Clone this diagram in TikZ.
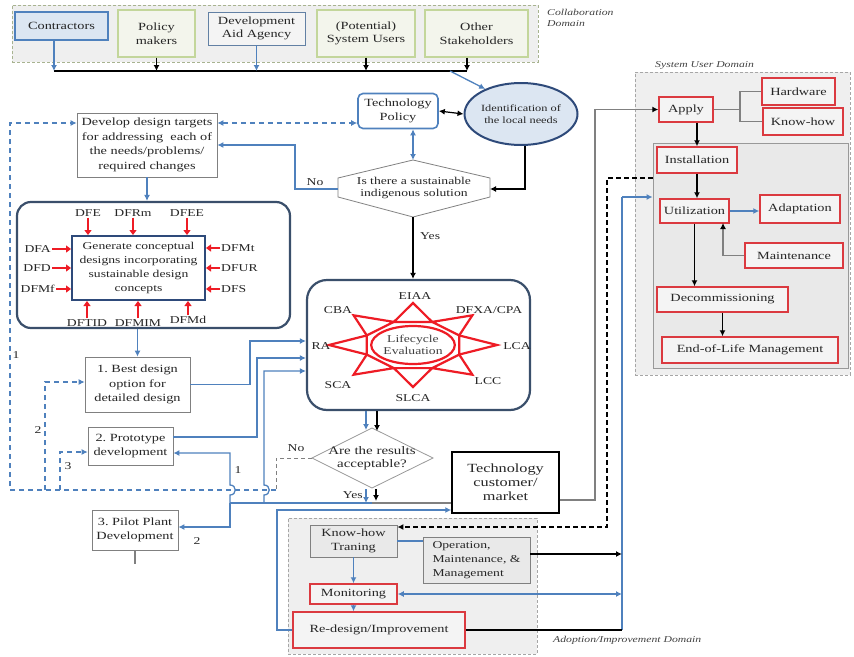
\documentclass[tikz,border=0pt]{standalone}
\usepackage{fontspec}
\setmainfont{Liberation Serif}[FakeStretch=1.3]
\usetikzlibrary{arrows.meta,calc,shapes.geometric}
\definecolor{cblue}{HTML}{4F81BD}
\definecolor{cbluefill}{HTML}{DCE6F2}
\definecolor{cdark}{HTML}{3A4F6B}
\definecolor{cdarkblue}{HTML}{2E4A7A}
\definecolor{cred}{HTML}{EE1C25}
\definecolor{cboxred}{HTML}{DB3A40}
\definecolor{cgreen}{HTML}{C3D69B}
\definecolor{cgreenfill}{HTML}{F3F5EC}
\definecolor{cgrayline}{HTML}{808080}
\definecolor{cdomain}{HTML}{EFEFEF}
\definecolor{cinner}{HTML}{E9E9E9}
\definecolor{cboxfill}{HTML}{F4F4F4}
\newcommand\fsz[2]{\fontsize{#1}{#2}\selectfont}
\begin{document}
\begin{tikzpicture}[x=1pt,y=-1pt,
 base/.style={align=center, inner sep=1pt, text=black!85, font=\fsz{11}{13.5}},
 plainbox/.style={base, draw=cgrayline, line width=0.7pt, fill=white},
 greenbox/.style={base, draw=cgreen, line width=1.3pt, fill=cgreenfill},
 redbox/.style={base, draw=cboxred, line width=1.5pt, fill=cboxfill},
 darkround/.style={draw=cdark, line width=2.2pt, rounded corners=14pt, fill=white, inner sep=0pt},
 bline/.style={draw=cblue, line width=1.3pt},
 barrow/.style={bline, -{Latex[length=6pt,width=6pt]}},
 karrow/.style={draw=black, line width=1.2pt, -{Latex[length=6pt,width=6pt]}},
 garrow/.style={draw=cgrayline, line width=1.1pt, -{Latex[length=6pt,width=6pt,color=black]}},
 gline/.style={draw=cgrayline, line width=1.1pt},
 redarrow/.style={draw=cred, line width=1.6pt, -{Triangle[length=5pt,width=7pt]}},
 dashb/.style={draw=cblue, line width=1.1pt, dash pattern=on 5pt off 4pt},
 dashg/.style={draw=cgrayline, line width=1pt, dash pattern=on 4pt off 3pt},
 dashk/.style={draw=black, line width=1.2pt, dash pattern=on 5pt off 3pt},
 lab/.style={font=\fsz{10.5}{12}, text=black!85, inner sep=1pt},
 domlab/.style={font=\itshape\fsz{9}{11}, text=black!75, align=left, inner sep=0pt},
]
\useasboundingbox (0,0) rectangle (854,656);

% ---------- domains ----------
\node[draw=cgreen!60!gray, dash pattern=on 3pt off 2pt, line width=1pt, fill=cdomain, minimum width=526pt, minimum height=57pt, inner sep=0pt] (collabDom) at (275,33.5) {};
\node[domlab, anchor=north west] (collabLab) at (547,9) {Collaboration\\Domain};

\node[draw=cgrayline!70, dash pattern=on 3pt off 2pt, line width=1pt, fill=cdomain, minimum width=215pt, minimum height=303pt, inner sep=0pt] (suDom) at (742.5,223.5) {};
\node[draw=cgrayline!80, line width=0.8pt, fill=cinner, minimum width=195pt, minimum height=225pt, inner sep=0pt] (suIn) at (750.5,255.5) {};
\node[domlab, anchor=west] (suLab) at (655,65) {System User Domain};

\node[draw=cgrayline!70, dash pattern=on 3pt off 2pt, line width=1pt, fill=cdomain, minimum width=249pt, minimum height=136pt, inner sep=0pt] (adDom) at (412.5,586) {};
\node[domlab, anchor=west] (adLab) at (553,640) {Adoption/Improvement Domain};

% ---------- collaboration boxes ----------
\node[base, draw=cblue, line width=1.6pt, fill=cbluefill, minimum width=93pt, minimum height=28pt] (contr) at (61.5,26) {Contractors};
\node[greenbox, minimum width=77pt, minimum height=47pt] (policy) at (156.5,33.5) {Policy\\makers};
\node[base, draw=cblue!60!gray, line width=0.8pt, fill=cboxfill, minimum width=97pt, minimum height=33pt] (devaid) at (256.5,28.5) {Development\\Aid Agency};
\node[greenbox, minimum width=98pt, minimum height=47pt] (potential) at (366,33.5) {(Potential)\\System Users};
\node[greenbox, minimum width=103pt, minimum height=47pt] (other) at (476.5,33.5) {Other\\Stakeholders};

\coordinate (busL) at (54,71);
\coordinate (busR) at (467,71);
\coordinate (busD) at (450,71);
\draw[black, line width=1.4pt] (busL) -- (busR);
\draw[barrow] (busL |- contr.south) -- (busL);
\draw[karrow] (policy.south) -- (policy.south |- busL);
\draw[barrow] (devaid.south) -- (devaid.south |- busL);
\draw[karrow] (potential.south) -- (potential.south |- busL);
\draw[karrow] (busR |- other.south) -- (busR);

% ---------- policy / needs ----------
\node[base, draw=cblue, line width=1.6pt, rounded corners=5pt, fill=white, minimum width=80pt, minimum height=35pt] (tp) at (398,111) {Technology\\Policy};
\node[ellipse, draw=cdarkblue, line width=2pt, fill=cbluefill, minimum width=103pt, minimum height=62pt, inner sep=0pt, align=center, text=black!85, font=\fsz{9.5}{11.5}] (idn) at (521,114) {Identification of\\the local needs};
\draw[barrow] (busD) -- (idn.145);
\draw[draw=black, line width=1.2pt, {Latex[length=6pt,width=6pt]}-{Latex[length=6pt,width=6pt]}] (tp.east) -- (idn.west);

% hexagon decision
\coordinate (d1N) at (413,160);
\coordinate (d1S) at (413,217);
\coordinate (d1W) at (338,189);
\coordinate (d1E) at (490,189);
\draw[draw=cgrayline, line width=0.8pt, fill=white] (d1N) -- (490,178) -- (490,197) -- (d1S) -- (338,197) -- (338,178) -- cycle;
\node[font=\fsz{10.5}{12.5}, align=center, text=black!85] (d1) at (414,188) {Is there a sustainable\\indigenous solution};
\draw[draw=cblue, line width=1.6pt, {Latex[length=6pt,width=6pt]}-{Latex[length=6pt,width=6pt]}] (tp.south -| d1N) -- (d1N);
\draw[karrow] (idn.-83) |- (d1E);

% develop design targets
\node[plainbox, minimum width=140pt, minimum height=64pt, font=\fsz{11}{14.5}] (dev) at (147,145) {Develop design targets\\for addressing\ \ each of\\the needs/problems/\\required changes};
\coordinate (noC) at (295,189);
\draw[barrow] (d1W) -- (noC) |- (dev.east);
\node[lab] (noLab) at (315,182) {No};
\draw[dashb, {Latex[length=6pt,width=6pt]}-{Latex[length=6pt,width=6pt]}] ($(dev.east)+(0,-22)$) -- ($(tp.west)+(0,12)$);
\node[lab, anchor=west] (yesLab1) at (419,236) {Yes};

% ---------- concept box ----------
\node[darkround, minimum width=273pt, minimum height=126pt] (concept) at (153.5,265) {};
\node[base, draw=cdarkblue, line width=2pt, fill=white, minimum width=133pt, minimum height=64pt, font=\fsz{10.5}{14}] (gen) at (138.5,268) {Generate conceptual\\designs incorporating\\sustainable design\\concepts};
\draw[barrow] (dev.south) -- (dev.south |- concept.north);

\node[lab] (dfe) at (88,213) {DFE};
\node[lab] (dfrm) at (133,213) {DFRm};
\node[lab] (dfee) at (187,213) {DFEE};
\draw[redarrow] (dfe.south) -- (dfe.south |- gen.north);
\draw[redarrow] (dfrm.south) -- (dfrm.south |- gen.north);
\draw[redarrow] (dfee.south) -- (dfee.south |- gen.north);
\node[lab, anchor=east] (dfa) at (52,249) {DFA};
\node[lab, anchor=east] (dfd) at (52,268) {DFD};
\node[lab, anchor=east] (dfmf) at (56,289) {DFMf};
\draw[redarrow] (dfa.east) -- (dfa.east -| gen.west);
\draw[redarrow] (dfd.east) -- (dfd.east -| gen.west);
\draw[redarrow] (dfmf.east) -- (dfmf.east -| gen.west);
\node[lab, anchor=west] (dfmt) at (220,248) {DFMt};
\node[lab, anchor=west] (dfur) at (220,268) {DFUR};
\node[lab, anchor=west] (dfs) at (220,289) {DFS};
\draw[redarrow] (dfmt.west) -- (dfmt.west -| gen.east);
\draw[redarrow] (dfur.west) -- (dfur.west -| gen.east);
\draw[redarrow] (dfs.west) -- (dfs.west -| gen.east);
\node[lab] (dftid) at (87,323) {DFTID};
\node[lab] (dfmim) at (138,323) {DFMIM};
\node[lab] (dfmd) at (188,320) {DFMd};
\draw[redarrow] (dftid.north) -- (dftid.north |- gen.south);
\draw[redarrow] (dfmim.north) -- (dfmim.north |- gen.south);
\draw[redarrow] (dfmd.north) -- (dfmd.north |- gen.south);

% ---------- design steps ----------
\node[plainbox, minimum width=105pt, minimum height=55pt, font=\fsz{11}{14.5}] (best) at (137.5,384.5) {1.\ Best design\\option for\\detailed design};
\node[plainbox, minimum width=85pt, minimum height=38pt, font=\fsz{11}{14}] (proto) at (130.5,446) {2.\ Prototype\\development};
\node[plainbox, minimum width=86pt, minimum height=40pt, font=\fsz{11}{14}] (pilot) at (135,530) {3.\ Pilot Plant\\Development};
\draw[barrow] (best.north |- concept.south) -- (best.north);
\coordinate (pstub) at (135,564);
\draw[gline] (pilot.south) -- (pstub);

% ---------- technology customer ----------
\node[base, draw=black, line width=1.5pt, fill=white, minimum width=107pt, minimum height=61pt, font=\fsz{12.5}{14}] (tcm) at (505.5,482.5) {Technology\\customer/\\market};

% ---------- lifecycle ----------
\node[darkround, rounded corners=20pt, minimum width=223pt, minimum height=130pt] (lc) at (418.5,345) {};
\draw[karrow] (d1S) -- (d1S |- lc.north);
\foreach \a in {0,45,...,315}{
  \draw[cred, line width=2.2pt, line join=miter, fill=white]
   ({413+84*cos(\a)},{345+42*sin(\a)}) -- ({413+50*cos(\a+22.5)},{345+25*sin(\a+22.5)}) -- ({413+50*cos(\a-22.5)},{345+25*sin(\a-22.5)}) -- cycle;
}
\node[ellipse, draw=cred, line width=2.2pt, fill=white, minimum width=78pt, minimum height=38pt, inner sep=0pt, font=\fsz{10.5}{12}, align=center, text=black!75] (lce) at (413,345) {Lifecycle\\Evaluation};
\node[lab] (lEIAA) at (415,296) {EIAA};
\node[lab] (lDFXA) at (489,310) {DFXA/CPA};
\node[lab] (lCBA) at (338,310) {CBA};
\node[lab] (lRA) at (321,346) {RA};
\node[lab] (lLCA) at (517,346) {LCA};
\node[lab] (lSCA) at (338,385) {SCA};
\node[lab] (lLCC) at (488,381) {LCC};
\node[lab] (lSLCA) at (413,398) {SLCA};

% inputs to lifecycle
\coordinate (c1) at (250,341);
\coordinate (c2) at (257,358);
\coordinate (c3) at (264,371);
\coordinate (j1) at (230,503);
\coordinate (c4) at (230,453);
\coordinate (c5) at (230,527);
\coordinate (pE) at ($(proto.east)+(0,-9)$);
\draw[barrow] (best.east) -| (c1) -- (c1 -| lc.west);
\draw[barrow] (pE) -| (c2) -- (c2 -| lc.west);
\draw[barrow] (c3 |- j1) -- (264,495) .. controls (271,495) and (271,485) .. (264,485) -- (c3) -- (c3 -| lc.west);

% results decision
\coordinate (d2N) at (372,428);
\coordinate (d2S) at (372,488);
\coordinate (d2W) at (312,458);
\coordinate (d2E) at (433,458);
\draw[draw=cgrayline!80, line width=0.8pt, fill=white] (d2N) -- (d2E) -- (d2S) -- (d2W) -- cycle;
\node[font=\fsz{11.5}{13.5}, align=center, text=black!85] (d2) at (372,458) {Are the results\\acceptable?};
\coordinate (a1) at (366,0);
\coordinate (a2) at (377,0);
\draw[barrow] (a1 |- lc.south) -- (366,430);
\draw[karrow] (a2 |- lc.south) -- (377,431);
\draw[barrow] (366,489) -- (366,503);
\draw[karrow] (376,489) -- (376,501);
\node[lab, anchor=east] (yesLab2) at (364,495) {Yes};
\draw[bline] (j1) -- (j1 -| d2S);
\draw[gline] (d2S |- j1) -- (j1 -| tcm.west);
\draw[barrow] (j1) -- (230,495) .. controls (237,495) and (237,485) .. (230,485) -- (c4) -- (c4 -| proto.east);
\draw[barrow] (j1) -- (c5) -- (c5 -| pilot.east);
\node[lab] (one2) at (238,470) {1};
\node[lab] (two2) at (197,541) {2};

% dashed feedback
\coordinate (L0) at (10,490);
\coordinate (L1) at (10,123);
\coordinate (nA) at (276,458);
\coordinate (nB) at (276,490);
\coordinate (L2) at (45,490);
\coordinate (L2t) at (45,382);
\coordinate (L3) at (60,490);
\coordinate (L3t) at (60,452);
\draw[dashg] (d2W) -- (nA) -- (nB);
\draw[dashb, -{Latex[length=6pt,width=6pt]}] (nB) -- (L0) -- (L1) -- (L1 -| dev.west);
\draw[dashb, -{Latex[length=6pt,width=6pt]}] (L2) -- (L2t) -- (L2t -| best.west);
\draw[dashb, -{Latex[length=6pt,width=6pt]}] (L3) -- (L3t) -- (L3t -| proto.west);
\node[lab] (one1) at (16,355) {1};
\node[lab] (two1) at (38,430) {2};
\node[lab] (three1) at (68,466) {3};
\node[lab] (noLab2) at (296,448) {No};

% ---------- system user domain boxes ----------
\node[redbox, minimum width=54pt, minimum height=25pt] (apply) at (686,109.5) {Apply};
\node[redbox, minimum width=73pt, minimum height=27pt] (hardware) at (798.5,91.5) {Hardware};
\node[redbox, minimum width=80pt, minimum height=27pt] (knowhow) at (803,121.5) {Know-how};
\node[redbox, minimum width=80pt, minimum height=26pt] (install) at (697,160) {Installation};
\node[redbox, minimum width=69pt, minimum height=24pt] (util) at (694.5,211) {Utilization};
\node[redbox, minimum width=80pt, minimum height=28pt] (adapt) at (800,209) {Adaptation};
\node[redbox, minimum width=98pt, minimum height=25pt] (maint) at (794,255.5) {Maintenance};
\node[redbox, minimum width=131pt, minimum height=25pt] (decom) at (722.5,299.5) {Decommissioning};
\node[redbox, minimum width=176pt, minimum height=26pt] (eol) at (750,350) {End-of-Life Management};

\coordinate (jA) at (740,109.5);
\draw[gline] (apply.east) -- (jA);
\draw[gline] (hardware.west) -| (jA);
\draw[gline] (knowhow.west) -| (jA);
\draw[karrow] (install.north |- apply.south) -- (install.north);
\draw[karrow] (install.south) -- (install.south |- util.north);
\draw[barrow] (util.east) -- (util.east -| adapt.west);
\coordinate (mU) at (723,223);
\draw[garrow] (maint.west) -| (mU);
\draw[karrow] (util.south) -- (util.south |- decom.north);
\draw[karrow] (decom.south) -- (decom.south |- eol.north);

% ---------- adoption domain boxes ----------
\node[base, draw=cgrayline, line width=0.8pt, fill=cinner, minimum width=87pt, minimum height=32pt] (know) at (353.5,541) {Know-how\\Traning};
\node[base, draw=cgrayline, line width=0.8pt, fill=cinner, minimum width=107pt, minimum height=46pt, align=left, font=\fsz{10.5}{14}] (omm) at (476.5,560) {Operation,\\Maintenance, \&\\Management};
\node[redbox, minimum width=87pt, minimum height=20pt] (mon) at (353.5,594) {Monitoring};
\node[redbox, minimum width=172pt, minimum height=36pt] (redesign) at (379,630) {Re-design/Improvement};
\draw[bline] (know.east) -- (know.east -| omm.west);
\draw[barrow] (know.south) -- (know.south |- mon.north);
\draw[barrow] (mon.south) -- (mon.south |- redesign.north);

% ---------- long connectors ----------
\coordinate (cA) at (595,500);
\coordinate (tE) at ($(tcm.east)+(0,17.5)$);
\draw[garrow] (tE) -- (cA) |- (apply.west);
\coordinate (cR) at (277,510);
\draw[barrow] (redesign.west) -| (cR) -- (cR -| tcm.west);
\coordinate (dk1) at (607,178);
\coordinate (dk2) at (607,527);
\draw[dashk, -{Latex[length=6pt,width=6pt]}] (dk1 -| suIn.west) -- (dk1) -- (dk2) -- (dk2 -| know.east);
\coordinate (vT) at (622,197);
\coordinate (vB) at (622,630);
\draw[bline] (vB) -- (vT);
\draw[barrow] (vT) -- (vT -| suIn.west);
\draw[bline, {Latex[length=6pt,width=6pt]}-{Latex[length=6pt,width=6pt]}] (mon.east) -- (mon.east -| vT);
\coordinate (oE) at ($(omm.east)+(0,-6)$);
\draw[karrow] (oE) -- (oE -| vT);
\draw[draw=black, line width=1.2pt] (redesign.east) -- (redesign.east -| vT);
\end{tikzpicture}
\end{document}
